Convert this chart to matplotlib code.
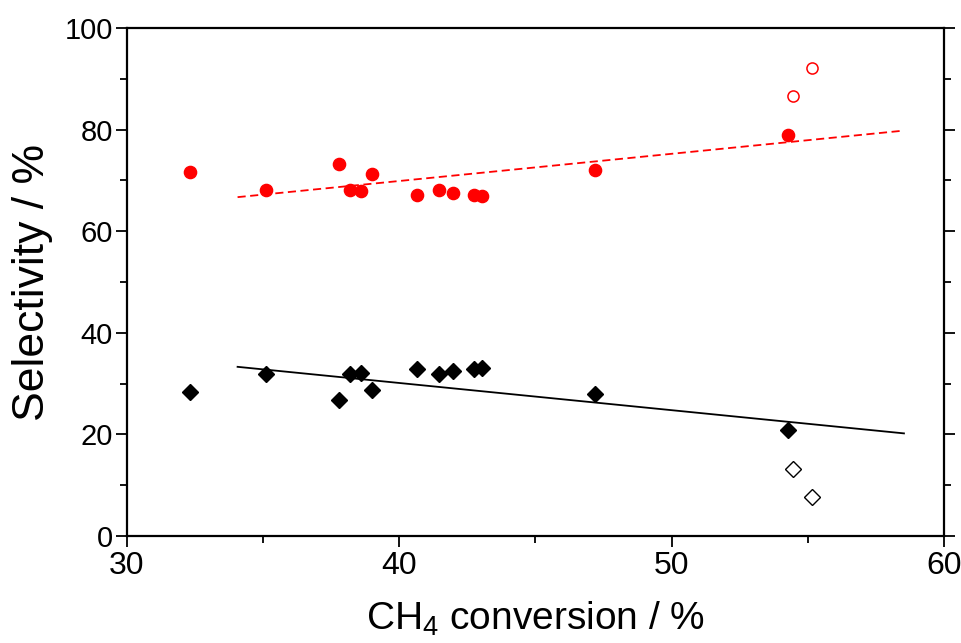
import matplotlib
matplotlib.use("Agg")
import matplotlib.pyplot as plt
from matplotlib.ticker import MultipleLocator

plt.rcParams['font.family'] = ['Liberation Sans', 'DejaVu Sans']
plt.rcParams['mathtext.fontset'] = 'custom'
plt.rcParams['mathtext.rm'] = 'Liberation Sans'

# CH4 conversion (%) and selectivities (%)
conv = [32.33, 35.11, 37.80, 38.19, 38.61, 38.99, 40.64, 41.45, 41.96, 42.75, 43.03, 47.19, 54.29]
sel_red = [71.6, 68.1, 73.2, 68.1, 67.9, 71.3, 67.1, 68.2, 67.5, 67.1, 66.9, 72.0, 79.0]
sel_black = [28.3, 31.9, 26.8, 31.8, 32.1, 28.7, 32.9, 31.8, 32.5, 32.9, 33.0, 28.0, 20.9]

# open (excluded) points
conv_open = [54.47, 55.17]
sel_red_open = [86.7, 92.2]
sel_black_open = [13.2, 7.7]

# linear trend lines (endpoints)
fit_x = [34.07, 58.53]
fit_red = [66.7, 79.8]
fit_black = [33.3, 20.2]

fig = plt.figure(figsize=(9.62, 6.43), dpi=100)
ax = fig.add_axes([0.1317, 0.1664, 0.8496, 0.7901])

ax.plot(fit_x, fit_red, color='red', linestyle=(0, (4.5, 2.5)), linewidth=1.3, zorder=2)
ax.plot(fit_x, fit_black, color='black', linestyle='-', linewidth=1.3, zorder=2)

ax.plot(conv, sel_red, linestyle='none', marker='o', markersize=8.8,
        color='red', markeredgecolor='red', zorder=3)
ax.plot(conv_open, sel_red_open, linestyle='none', marker='o', markersize=8.0,
        markerfacecolor='white', markeredgecolor='red', markeredgewidth=1.1, zorder=3)
ax.plot(conv, sel_black, linestyle='none', marker='D', markersize=8.5,
        color='black', zorder=3)
ax.plot(conv_open, sel_black_open, linestyle='none', marker='D', markersize=8.2,
        markerfacecolor='white', markeredgecolor='black', markeredgewidth=1.0, zorder=3)

ax.set_xlim(30, 60)
ax.set_ylim(0, 100)
ax.xaxis.set_major_locator(MultipleLocator(10))
ax.xaxis.set_minor_locator(MultipleLocator(5))
ax.yaxis.set_major_locator(MultipleLocator(20))
ax.yaxis.set_minor_locator(MultipleLocator(10))
ax.tick_params(which='both', direction='out', width=1.3,
               right=True, top=False)
ax.tick_params(which='major', length=8)
ax.tick_params(which='minor', length=5)
ax.tick_params(axis='x', labelsize=23, pad=3)
ax.tick_params(axis='y', labelsize=21, pad=2)
for s in ax.spines.values():
    s.set_linewidth(1.6)

ax.set_xlabel(r'CH$_4$ conversion / %', fontsize=28, labelpad=13)
ax.set_ylabel('Selectivity / %', fontsize=32, labelpad=8)

fig.savefig('out.png', dpi=100)
